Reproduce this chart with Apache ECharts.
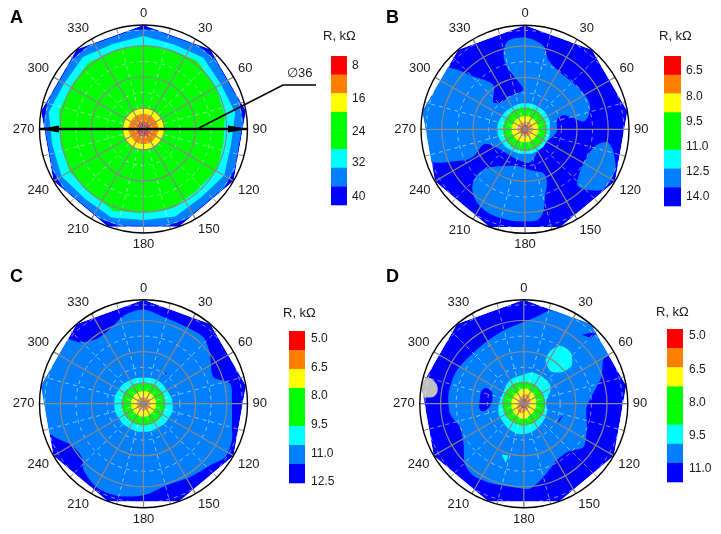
<!DOCTYPE html>
<html><head><meta charset="utf-8">
<style>html,body{margin:0;padding:0;background:#fff}#c{width:721px;height:534px}</style>
<script src="https://cdn.jsdelivr.net/npm/echarts@6/dist/echarts.min.js"></script>
</head><body><div id="c"></div>
<script>
// ---------- shared axis values (radius units, degrees) ----------
const angleMax = 360, angleStep = 30, radiusMax = 20;
const solidRings = [4, 10, 16];
const dashedRings = [1, 7, 13, 19];
const dashedSpokes = [15,45,75,105,135,165,195,225,255,285,315,345];
const rim = [[20,0],[20,40],[20,80],[20,120],[20,160],[20,200],[20,240],[20,280],[20,320]];
const ringAngles = [0,30,60,90,120,150,180,210,240,270,300,330];

// ---------- panel A ----------
const A_mid = [[19.2,354],[19.2,6],[19.2,34],[19.2,46],[19.2,74],[19.2,86],[19.2,114],[19.2,126],[19.2,154],[19.2,166],[19.2,194],[19.2,206],[19.2,234],[19.2,246],[19.2,274],[19.2,286],[19.2,314],[19.2,326]];
const A_cyan = [[17.9,0],[17.3,20],[17.9,40],[17.2,60],[17.9,80],[17.1,100],[17.9,120],[17.2,140],[17.9,160],[17.5,180],[18.1,200],[17.5,220],[18.2,240],[17.8,260],[18.5,280],[17.6,300],[18.1,320],[17.4,340]];
const A_green = [[16.2,0],[16,20],[16.7,38],[16.1,60],[15.9,80],[15.6,100],[16.2,118],[15.7,140],[16.2,160],[16.1,180],[16.8,200],[16,222],[16.4,240],[16.2,260],[16.6,282],[16.2,300],[16.6,320],[16.1,340]];
const A_yellow = [4,4,4,4,4,4,4,4,4,4,4,4];
const A_orange = [2.9,2.9,2.8,2.9,2.8,2.9,2.9,2.9,2.8,2.9,2.8,2.9];
const A_red = [1.4,1.4,1.3,1.4,1.3,1.4,1.4,1.4,1.3,1.4,1.3,1.4];
const A_labels = ['8','16','24','32','40'];

// ---------- panel B ----------
const B_body = [[15,344],[17.3,349],[17.6,1],[16.4,12.5],[14.1,18.6],[12.8,32],[13,50.4],[13.4,66.4],[12.6,77.2],[11.4,82.5],[9.6,77.2],[7.9,69.5],[6.4,73.6],[6.1,94],[5,114.6],[4.2,136],[5.6,160],[6.5,174],[6,195.5],[5.8,217],[8.2,250],[11.3,242],[14,244.3],[19.5,252.5],[20.5,280],[19.5,307],[17.5,311],[14.3,315.5],[10.5,324.5],[8.1,311],[7,316],[7,335],[7.6,357.5],[9.7,350.4],[12.6,343.7]];
const B_lobeBottom = [[13.5,225.6],[10.6,224.5],[7.9,207],[7.2,188],[7.9,173],[9.6,156.3],[13.6,163.5],[17.2,170],[17.7,179],[17.7,193.7],[17.3,207.8],[15.9,219]];
const B_lobeRight = [[14.2,135],[13,117],[14.2,102],[16.4,99.5],[18.6,110.7],[19.1,116.5],[19,127],[17.2,133],[15.2,137]];
const B_cyan = [5,5,5,4.8,4.8,4.8,4.7,4.8,5.1,5.3,5.1,4.9];
const B_green = [4.2,4.2,4.2,4.2,4.2,4.2,4.1,4.2,4.2,4.2,4.2,4.2];
const B_yellow = [2.5,2.5,2.5,2.6,2.5,2.5,2.5,2.5,2.5,2.6,2.5,2.5];
const B_orange = [1.4,1.5,1.5,1.5,1.4,1.4,1.4,1.3,1.3,1.4,1.4,1.4];
const B_red = [0.8,0.8,0.6,0.5,0.6,0.8,0.9,0.9,0.8,0.8,0.7,0.7];
const B_labels = ['6.5','8.0','9.5','11.0','12.5','14.0'];

// ---------- panel C ----------
const C_body = [[18.1,0],[17.1,13],[16.9,29.5],[17.2,42],[16,53],[14.4,69],[17.1,77],[17,88],[17.6,104.8],[18.4,112.5],[18.8,123],[17.7,130.6],[16.7,147.5],[16.3,164],[17.6,180],[18.4,196],[18.4,209],[17.2,222],[15.7,229],[16,240],[19.2,254],[20.5,280],[19.5,309],[17,314],[15.4,324],[15.8,336],[17.4,348]];
const C_dot = [[7.3,35],[7.3,38],[6.9,38],[6.9,35]];
const C_cyan = [5,5.2,5.2,5.6,5.6,5.4,5.4,5.4,5.5,5.6,5.5,5.2];
const C_green = [3.9,4.2,4.2,4.2,4.2,4.2,4.2,4.2,4.2,4.2,4.2,4.0];
const C_yellow = [2.4,2.4,2.4,2.4,2.4,2.4,2.5,2.4,2.4,2.4,2.4,2.4];
const C_orange = [1.3,1.3,1.3,1.3,1.3,1.3,1.3,1.3,1.3,1.3,1.3,1.3];
const C_red = [0.3,0.3,0.3,0.6,0.7,0.4,0.3,0.3,0.4,0.7,0.5,0.3];
const C_labels = ['5.0','6.5','8.0','9.5','11.0','12.5'];

// ---------- panel D ----------
const D_body = [[15.7,0],[16.9,8.4],[18.6,15.7],[19.8,29],[20.5,40],[19.2,60],[17.6,60.5],[15.8,71],[12.1,93],[12.9,110],[14.2,126],[12.6,137],[12.6,150],[14.6,165],[16.4,176],[16.2,187],[16.5,201],[16.9,215],[16.2,224.4],[13.9,236.5],[13.1,250],[14.3,262.3],[14.6,277.5],[14.4,296.4],[13.8,322],[14.6,344.4]];
const D_streakTop = [[17.3,40],[18.6,43],[19.7,46],[18,45.5]];
const D_blobLeft = [[8.3,290],[6.9,292],[6.1,279],[7,262],[8.4,261],[8.5,274]];
const D_streakRight = [[7.9,105.6],[7.6,123],[7.4,113]];
const D_cyanBlob = [[10,26],[12.6,30],[13.4,38],[12.7,47],[10.9,52],[8.3,43],[8.6,31.5]];
const D_cyanSmall = [[10.6,203.6],[10.4,196.7],[11.9,197]];
const D_gray = [[20.5,284.5],[18.4,285],[16.9,281],[17.2,275],[19.4,273.4],[20.5,273]];
const D_cyan = [[5.6,0],[6.2,17],[6.3,44],[5.9,61],[4.4,82],[4.8,114],[5.3,148],[5.8,175],[5.8,200],[5.3,233],[5,259],[4.5,299.6],[5.2,329]];
const D_green = [4.2,4.2,4.1,4.1,4.1,4.1,4.2,4.2,4.1,4.1,4.1,4.2];
const D_yellow = [2.9,2.7,2.5,2.4,2.4,2.5,2.9,2.7,2.5,2.4,2.4,2.5];
const D_orange = [1.7,1.9,1.4,1.2,1.2,1.3,1.7,1.9,1.4,1.2,1.2,1.3];
const D_red = [1.1,1.0,0.5,0.4,0.4,0.6,1.0,0.9,0.5,0.4,0.4,0.6];
const D_labels = ['5.0','6.5','8.0','9.5','11.0'];

// ---------- colours ----------
const RED='#ff0000', ORANGE='#ff8000', YELLOW='#ffff00', GREEN='#00ff00', CYAN='#00ffff', MID='#0080ff', DARK='#0000ff', GRAY='#c0c0c0';
const barColors = [RED,ORANGE,YELLOW,GREEN,GREEN,CYAN,MID,DARK];
const FONT = '"Liberation Sans", Arial, sans-serif';
const TEXT = '#1a1a1a';
const DASH = 'rgba(235,235,235,0.6)';

const ring = radii => radii.map((r,i)=>[r,ringAngles[i]]);

const panels = [
 {letter:'A', cx:143.5, cy:129, lx:10, ly:18,
  layers:[[rim,DARK,0],[A_mid,MID,0],[A_cyan,CYAN,0],[A_green,GREEN,0],[ring(A_yellow),YELLOW,.5],[ring(A_orange),ORANGE,.5],[ring(A_red),RED,.5]],
  bar:{x:331,y:56,w:16,h:149,tx:323,ty:36,lx:352,labels:A_labels,ys:[66,99,132,163,197]}},
 {letter:'B', cx:525, cy:129.3, lx:386, ly:18,
  layers:[[rim,DARK,0],[B_body,MID,.3],[B_lobeBottom,MID,.4],[B_lobeRight,MID,.4],[ring(B_cyan),CYAN,.5],[ring(B_green),GREEN,.5],[ring(B_yellow),YELLOW,.5],[ring(B_orange),ORANGE,.5],[ring(B_red),RED,.5]],
  bar:{x:664,y:56,w:17,h:150,tx:659,ty:36,lx:686,labels:B_labels,ys:[71,97,122,147,172,197]}},
 {letter:'C', cx:143.5, cy:403.7, lx:10, ly:277,
  layers:[[rim,DARK,0],[C_body,MID,.3],[C_dot,DARK,0],[ring(C_cyan),CYAN,.5],[ring(C_green),GREEN,.5],[ring(C_yellow),YELLOW,.5],[ring(C_orange),ORANGE,.5],[ring(C_red),RED,.5]],
  bar:{x:289,y:331,w:16,h:152,tx:283,ty:313,lx:311,labels:C_labels,ys:[339,368,396,425,454,482]}},
 {letter:'D', cx:523.8, cy:403.7, lx:386, ly:277,
  layers:[[rim,DARK,0],[D_body,MID,.25],[D_streakTop,DARK,0],[D_blobLeft,DARK,.5],[D_streakRight,DARK,0],[D_cyanBlob,CYAN,.5],[D_cyanSmall,CYAN,0],[D_gray,GRAY,.4],[D_cyan,CYAN,.4],[ring(D_green),GREEN,.5],[ring(D_yellow),YELLOW,.5],[ring(D_orange),ORANGE,.5],[ring(D_red),RED,.5]],
  bar:{x:667,y:329,w:16,h:153,tx:656,ty:312,lx:689,labels:D_labels,ys:[336,370,403,436,469]}}
];

const polar=[], angleAxis=[], radiusAxis=[], series=[], graphic=[];
panels.forEach((p,i)=>{
  polar.push({center:[p.cx,p.cy], radius:104});
  radiusAxis.push({polarIndex:i, min:0, max:radiusMax, show:false});
  angleAxis.push({
    polarIndex:i, type:'value', min:0, max:angleMax, interval:angleStep, startAngle:90, clockwise:true, z:5,
    axisLine:{show:true,lineStyle:{color:'#000',width:1.4}},
    axisTick:{show:true,inside:true,length:5,lineStyle:{color:'#888',width:1}},
    minorTick:{show:true,splitNumber:2,length:5,lineStyle:{color:'#888',width:1}},
    splitLine:{show:true,lineStyle:{color:'#888888',width:1.2}},
    minorSplitLine:{show:false},
    axisLabel:{show:true,margin:5,fontSize:13,fontFamily:FONT,color:TEXT}
  });
  p.layers.forEach(([pts,color,smooth])=>{
    series.push({
      type:'custom', coordinateSystem:'polar', polarIndex:i, silent:true, animation:false, z:2, clip:false,
      data:pts,
      renderItem:(params,api)=>{
        if(params.dataIndex!==0) return null;
        const xy=q=>api.coord(q).slice(0,2);
        return {type:'polygon', shape:{points:pts.map(xy), smooth:smooth||0}, style:{fill:color, stroke:null},
                clipPath:{type:'polygon', shape:{points:rim.map(xy)}}};
      }
    });
  });
  const ringSeries=(vals,style)=>series.push({
    type:'custom', coordinateSystem:'polar', polarIndex:i, silent:true, animation:false, z:3, clip:false,
    data:vals.map(v=>[v,0]),
    renderItem:(params,api)=>{
      const c=api.coord([0,0]), e=api.coord([api.value(0),0]);
      return {type:'circle', shape:{cx:c[0],cy:c[1],r:e[2]}, style:Object.assign({fill:null},style)};
    }
  });
  ringSeries(dashedRings,{stroke:DASH,lineWidth:1,lineDash:[4,4]});
  ringSeries(solidRings,{stroke:'#888888',lineWidth:1.2});
  series.push({
    type:'custom', coordinateSystem:'polar', polarIndex:i, silent:true, animation:false, z:3, clip:false,
    data:dashedSpokes.map(a=>[19,a]),
    renderItem:(params,api)=>{
      const a=api.value(1), s=api.coord([dashedRings[0],a]), e=api.coord([api.value(0),a]);
      return {type:'line', shape:{x1:s[0],y1:s[1],x2:e[0],y2:e[1]}, style:{stroke:DASH,lineWidth:1,lineDash:[4,4],fill:null}};
    }
  });

  // panel letter
  graphic.push({type:'text',x:p.lx,y:p.ly,z:20,style:{text:p.letter,font:'bold 18px '+FONT,fill:'#000',verticalAlign:'middle'}});
  // colour scale
  const b=p.bar, seg=b.h/barColors.length;
  barColors.forEach((c,k)=>graphic.push({type:'rect',z:20,shape:{x:b.x,y:b.y+k*seg,width:b.w,height:seg+.3},style:{fill:c}}));
  graphic.push({type:'text',x:b.tx,y:b.ty,z:20,style:{text:'R, k\u03A9',font:'13px '+FONT,fill:TEXT,verticalAlign:'middle'}});
  b.labels.forEach((t,k)=>graphic.push({type:'text',x:b.lx,y:b.ys[k],z:20,style:{text:t,font:'12px '+FONT,fill:TEXT,verticalAlign:'middle'}}));
});

// diameter annotation on panel A
graphic.push({type:'polyline',z:21,shape:{points:[[197,129],[283,85],[316,85]]},style:{stroke:'#000',lineWidth:1.6,fill:null}});
graphic.push({type:'line',z:21,shape:{x1:40,y1:129,x2:247,y2:129},style:{stroke:'#000',lineWidth:2.6}});
graphic.push({type:'polygon',z:21,shape:{points:[[39,129],[59,125.5],[59,132.5]]},style:{fill:'#000'}});
graphic.push({type:'polygon',z:21,shape:{points:[[248,129],[228,125.5],[228,132.5]]},style:{fill:'#000'}});
graphic.push({type:'text',x:287,y:73,z:21,style:{text:'\u220536',font:'13px '+FONT,fill:TEXT,verticalAlign:'middle'}});

const chart = echarts.init(document.getElementById('c'),null,{renderer:'canvas'});
chart.setOption({backgroundColor:'#fff',animation:false,polar,angleAxis,radiusAxis,series,graphic});
</script></body></html>
